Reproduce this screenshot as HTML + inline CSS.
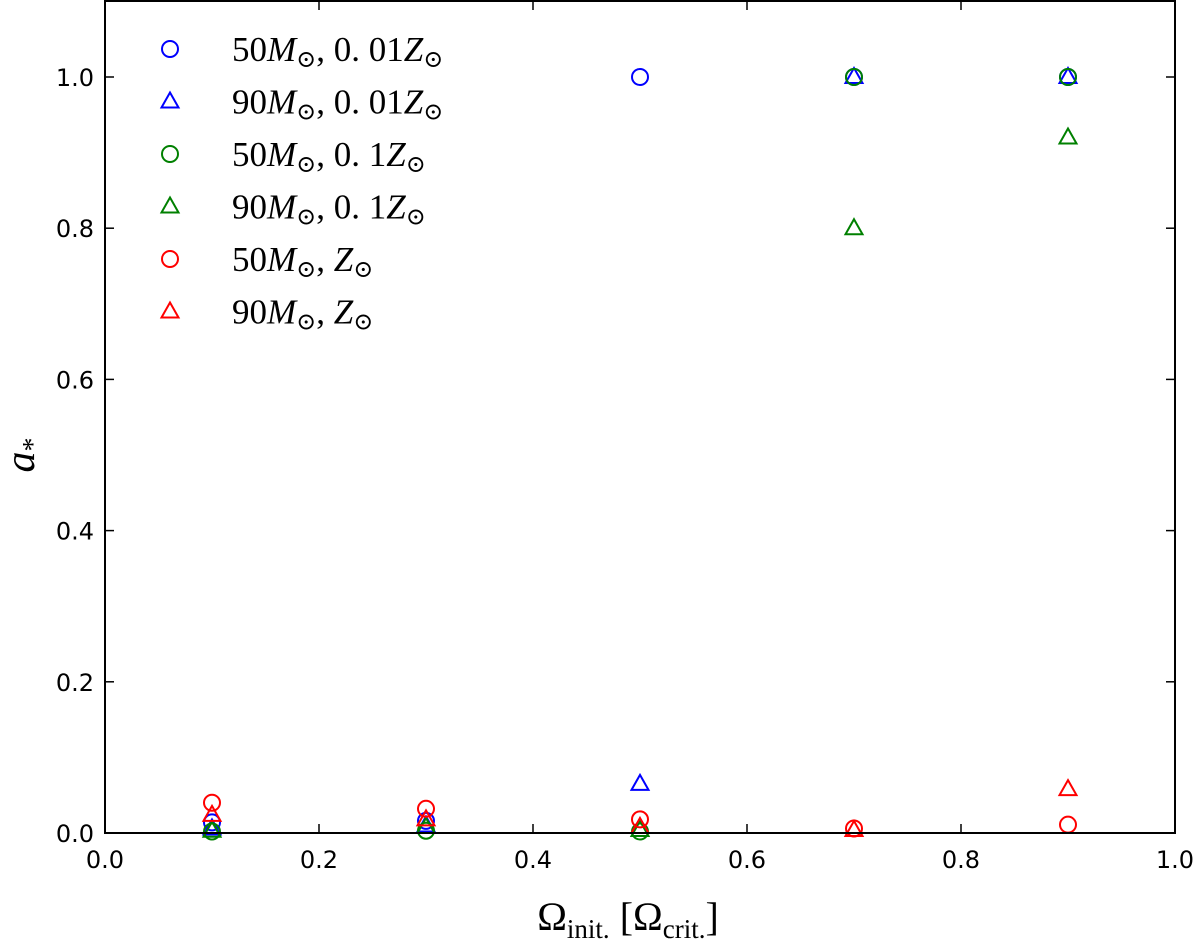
<!DOCTYPE html>
<html><head><meta charset="utf-8"><style>
html,body{margin:0;padding:0;background:#fff;}
svg{display:block;font-family:"DejaVu Sans","Liberation Sans",sans-serif;}
.m{font-family:"Liberation Serif","DejaVu Serif",serif;}
</style></head><body>
<svg id="chart" width="1200" height="942" viewBox="0 0 1200 942" xmlns="http://www.w3.org/2000/svg">
<g id="plot"></g>
</svg>
<script>
const xValues = [0.1, 0.3, 0.5, 0.7, 0.9];
const seriesNames = ["50M 0.01Z", "90M 0.01Z", "50M 0.1Z", "90M 0.1Z", "50M Z", "90M Z"];
const s50_001 = [0.014, 0.016, 1.0, 1.0, 1.0];
const s90_001 = [0.006, 0.010, 0.065, 1.0, 1.0];
const s50_01 = [0.002, 0.003, 0.002, 1.0, 1.0];
const s90_01 = [0.003, 0.008, 0.004, 0.80, 0.92];
const s50_1 = [0.040, 0.032, 0.018, 0.006, 0.011];
const s90_1 = [0.024, 0.018, 0.008, 0.004, 0.058];
const xTicks = ["0.0","0.2","0.4","0.6","0.8","1.0"];
const yTicks = ["0.0","0.2","0.4","0.6","0.8","1.0"];

const L=105,R=1175,T=1,B=833;
const X=v=>L+(R-L)*v;
const Y=v=>B-(B-77)*v;
const NS="http://www.w3.org/2000/svg";
const g=document.getElementById('plot');
function mk(t,a){const e=document.createElementNS(NS,t);for(const k in a)e.setAttribute(k,a[k]);g.appendChild(e);return e;}

const series=[[s50_001,'#0000ff','o'],[s90_001,'#0000ff','t'],[s50_01,'#008000','o'],[s90_01,'#008000','t'],[s50_1,'#ff0000','o'],[s90_1,'#ff0000','t']];
function marker(cx,cy,col,shape){
  if(shape==='o') return mk('circle',{cx:cx,cy:cy,r:8,fill:'none',stroke:col,'stroke-width':2});
  return mk('polygon',{points:`${cx},${cy-9} ${cx+8.5},${cy+6} ${cx-8.5},${cy+6}`,fill:'none',stroke:col,'stroke-width':2});
}
series.forEach((s,si)=>{
  s[0].forEach((v,i)=>{
    const e=marker(X(xValues[i]),Y(v),s[1],s[2]);
    
    
  });
});

const fr=mk('rect',{x:L,y:T,width:R-L,height:B-T,fill:'none',stroke:'#000','stroke-width':2});


xTicks.forEach((t,i)=>{
  const x=X(i*0.2);
  mk('line',{x1:x,y1:B,x2:x,y2:B-9,stroke:'#000','stroke-width':1.5});
  mk('line',{x1:x,y1:T,x2:x,y2:T+9,stroke:'#000','stroke-width':1.5});
  const tx=mk('text',{x:x,y:B+35,'font-size':24,'text-anchor':'middle'});tx.textContent=t;
  
  
});
yTicks.forEach((t,i)=>{
  const y=Y(i*0.2);
  mk('line',{x1:L,y1:y,x2:L+9,y2:y,stroke:'#000','stroke-width':1.5});
  mk('line',{x1:R,y1:y,x2:R-9,y2:y,stroke:'#000','stroke-width':1.5});
  const tx=mk('text',{x:L-11,y:y+9,'font-size':24,'text-anchor':'end'});tx.textContent=t;
  
  
});

const labels=[["50","0. 01"],["90","0. 01"],["50","0. 1"],["90","0. 1"],["50",""],["90",""]];
series.forEach((s,i)=>{
  const y=49+52.5*i;
  const m=marker(170,y,s[1],s[2]);
  
  
  const t=mk('text',{x:232,y:y+12,'font-size':35,class:'m'});
  t.innerHTML=`${labels[i][0]}<tspan font-style="italic">M</tspan><tspan font-size="24" dy="6">⊙</tspan><tspan dy="-6">, ${labels[i][1]}</tspan><tspan font-style="italic">Z</tspan><tspan font-size="24" dy="6">⊙</tspan>`;
  
  
});

const xt=mk('text',{x:628,y:930,'font-size':40,'text-anchor':'middle',class:'m'});
xt.innerHTML='Ω<tspan font-size="27" dy="8">init.</tspan><tspan dy="-8">  [Ω</tspan><tspan font-size="27" dy="8">crit.</tspan><tspan dy="-8">]</tspan>';


const yt=mk('text',{x:0,y:0,'font-size':42,'text-anchor':'middle',class:'m',transform:'translate(34,455) rotate(-90)'});
yt.innerHTML='<tspan font-style="italic">a</tspan><tspan font-size="28" dy="8">*</tspan>';


</script>
</body></html>
